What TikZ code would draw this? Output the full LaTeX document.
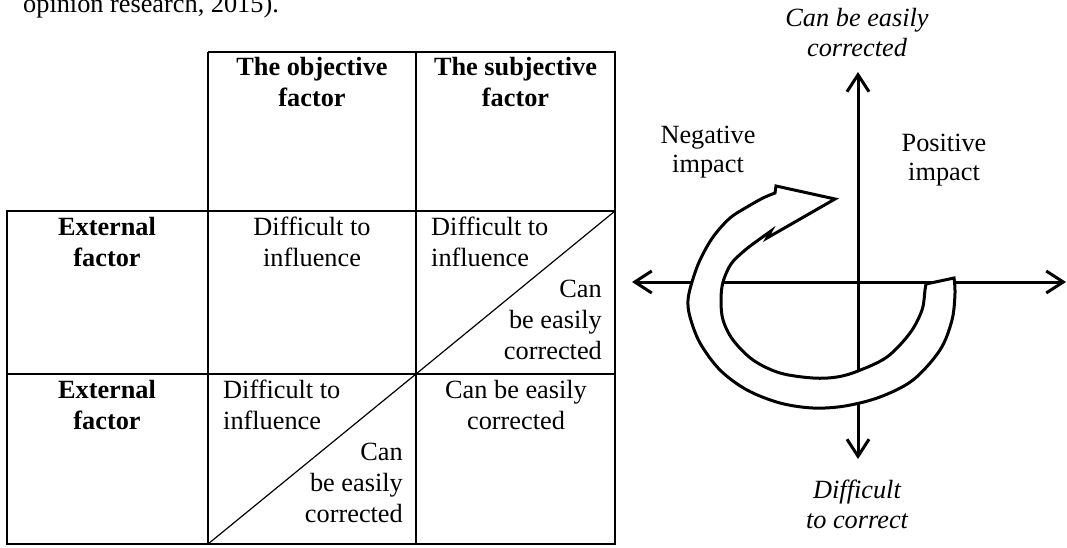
\documentclass[tikz,border=0pt]{standalone}
\usepackage{fontspec}
\setmainfont{Liberation Serif}
\usetikzlibrary{arrows.meta}
\begin{document}
\begin{tikzpicture}[x=1pt,y=-1pt,
  txt/.style={inner sep=0pt, font=\fontsize{26.3}{31}\selectfont},
  bt/.style={inner sep=0pt, font=\fontsize{26.3}{31}\selectfont\bfseries},
  it/.style={inner sep=0pt, font=\fontsize{26.3}{31}\selectfont\itshape},
  tbl/.style={line width=2.6pt},
  diag/.style={line width=1.2pt},
  axis/.style={line width=3pt, {Straight Barb[length=17pt,width=22pt]}-{Straight Barb[length=17pt,width=22pt]}},
  band/.style={line width=3pt, fill=white, draw=black, line join=miter}]
\useasboundingbox (0,0) rectangle (1067,548);

% caption fragment
\node[txt, anchor=base west] (capt) at (23,13) {opinion research, 2015).};

% table grid
\draw[tbl] (208,52) -- (615,52) -- (615,544) -- (7,544) -- (7,211) -- (615,211);
\draw[tbl] (208,52) -- (208,544);
\draw[tbl] (416,52) -- (416,544);
\draw[tbl] (7,374) -- (615,374);
\draw[diag] (416,374) -- (615,211);
\draw[diag] (208,544) -- (416,374);

% header
\node[bt, anchor=base] (h1a) at (312,76) {The objective};
\node[bt, anchor=base] (h1b) at (312,107) {factor};
\node[bt, anchor=base] (h2a) at (515.5,76) {The subjective};
\node[bt, anchor=base] (h2b) at (515.5,107) {factor};

% row 1
\node[bt, anchor=base] (r1a) at (107,235) {External};
\node[bt, anchor=base] (r1b) at (107,266) {factor};
\node[txt, anchor=base] (c11a) at (312,235) {Difficult to};
\node[txt, anchor=base] (c11b) at (312,266) {influence};
\node[txt, anchor=base west] (c12a) at (431,235) {Difficult to};
\node[txt, anchor=base west] (c12b) at (431,266) {influence};
\node[txt, anchor=base east] (c12c) at (602,297) {Can};
\node[txt, anchor=base east] (c12d) at (602,328) {be easily};
\node[txt, anchor=base east] (c12e) at (602,359) {corrected};

% row 2
\node[bt, anchor=base] (r2a) at (107,398) {External};
\node[bt, anchor=base] (r2b) at (107,429) {factor};
\node[txt, anchor=base west] (c21a) at (223,398) {Difficult to};
\node[txt, anchor=base west] (c21b) at (223,429) {influence};
\node[txt, anchor=base east] (c21c) at (403,460) {Can};
\node[txt, anchor=base east] (c21d) at (403,491) {be easily};
\node[txt, anchor=base east] (c21e) at (403,522) {corrected};
\node[txt, anchor=base] (c22a) at (516,398) {Can be easily};
\node[txt, anchor=base] (c22b) at (516,429) {corrected};

% axes
\coordinate (N) at (858,72);
\coordinate (S) at (858,459);
\coordinate (W) at (632,282);
\coordinate (E) at (1066,282);
\draw[axis] (S) -- (N);
\draw[axis] (W) -- (E);

% curved arrow band
\draw[band] (926,284) -- plot[smooth, tension=0.55] coordinates {
  (954,278) (955,293) (952,320) (940,350) (913,380) (880,397) (845,406)
  (813,408) (780,403) (747,390) (720,370) (700,343) (690,317) (688,300)
  (692,282) (700,260) (713,237) (730,218) (747,207) (763,198) (775,193)}
  -- (776,186) -- (835,199) -- (767,238)
  -- plot[smooth, tension=0.55] coordinates {
  (771,231) (757,241) (744,251) (731,264) (723,282) (721,300) (723,320)
  (733,340) (753,360) (780,373) (813,378) (837,377) (858,371) (887,357)
  (910,333) (922,310) (925,290) (926,284)} -- cycle;

% axis labels
\node[it, anchor=base] (up1) at (857,27) {Can be easily};
\node[it, anchor=base] (up2) at (857,57) {corrected};
\node[it, anchor=base] (dn1) at (857,498) {Difficult};
\node[it, anchor=base] (dn2) at (857,528) {to correct};
\node[txt, anchor=base] (neg1) at (708,144) {Negative};
\node[txt, anchor=base] (neg2) at (708,173) {impact};
\node[txt, anchor=base] (pos1) at (944,152) {Positive};
\node[txt, anchor=base] (pos2) at (944,181) {impact};
\end{tikzpicture}
\end{document}
